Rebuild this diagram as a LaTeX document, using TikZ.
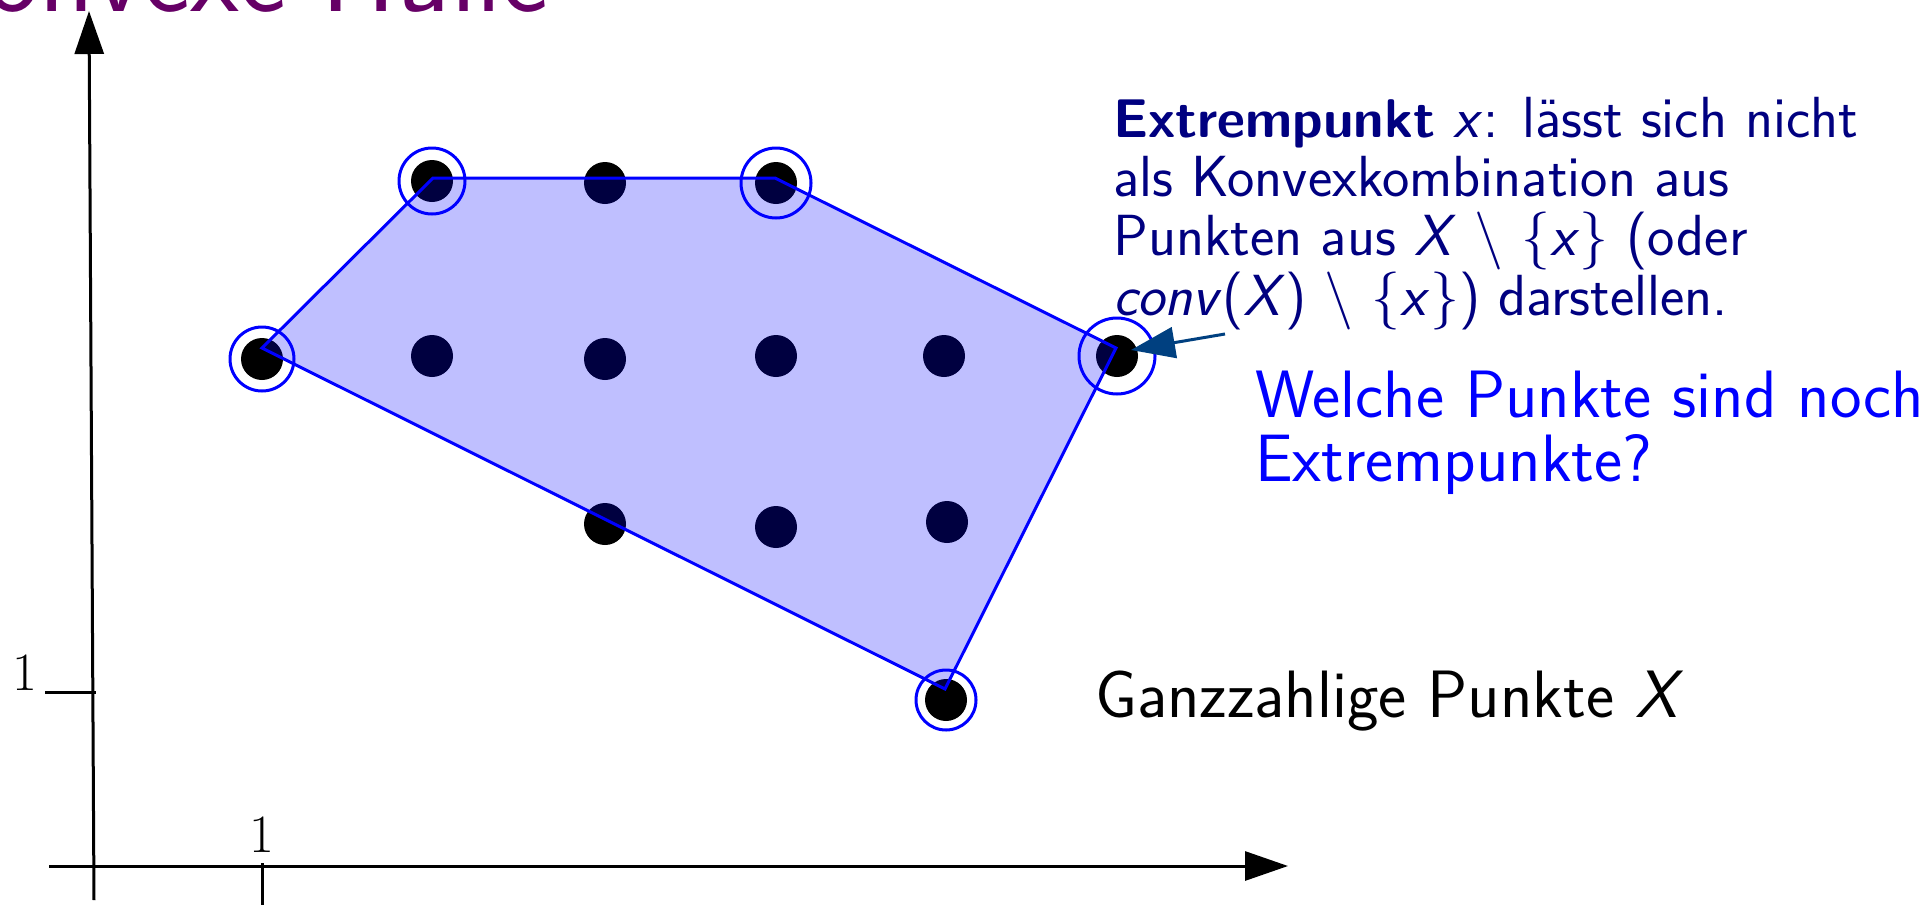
\RequirePackage{fix-cm}
\documentclass[tikz,border=0pt]{standalone}
\usepackage{fontspec}
\usetikzlibrary{arrows.meta}
\definecolor{titlepurple}{RGB}{102,0,102}
\definecolor{notenavy}{RGB}{0,0,128}
\definecolor{arrowblue}{RGB}{0,64,128}
\newcommand{\boldterm}[1]{{\fontsize{54.5}{59}\selectfont\bfseries #1}}
\begin{document}
\begin{tikzpicture}[x=1pt,y=-1pt,
  axisline/.style={line width=3pt,black},
  axistip/.style={-{Triangle[length=43pt,width=29pt]}},
  dotpt/.style={circle,fill=black,minimum size=42pt,inner sep=0pt,outer sep=0pt},
  ringmark/.style={draw=blue,line width=3pt},
  hull/.style={draw=blue,line width=3pt,fill=blue,fill opacity=0.25,line join=miter},
  smalltxt/.style={inner sep=0pt,anchor=base west,text=notenavy,font=\sffamily\fontsize{58}{59}\selectfont},
  bigtxt/.style={inner sep=0pt,anchor=base west,font=\sffamily\fontsize{67}{68}\selectfont},
  ticklabel/.style={inner sep=0pt,anchor=base,font=\rmfamily\fontsize{54}{60}\selectfont},
]
\useasboundingbox (0,0) rectangle (1932,905);

% title
\node[inner sep=0pt,anchor=base east,text=titlepurple,font=\sffamily\fontsize{113}{120}\selectfont] (title) at (549,11) {Konvexe Hülle};

% axes
\coordinate (ybot) at (94,900);
\coordinate (ytop) at (89,11);
\coordinate (xleft) at (49,866);
\coordinate (xright) at (1288,866);
\draw[axisline,axistip] (ybot) -- (ytop);
\draw[axisline,axistip] (xleft) -- (xright);
\coordinate (xt1) at (262,863);
\coordinate (xt2) at (262,905);
\coordinate (yt1) at (45,692);
\coordinate (yt2) at (96,692);
\draw[axisline] (xt1) -- (xt2);
\draw[axisline] (yt1) -- (yt2);
\node[ticklabel] (xone) at (262,852) {1};
\node[ticklabel] (yone) at (25,690) {1};

% integer points
\node[dotpt] (p24) at (432,181) {};
\node[dotpt] (p34) at (605,183) {};
\node[dotpt] (p44) at (776,183) {};
\node[dotpt] (p13) at (262,359) {};
\node[dotpt] (p23) at (432,356) {};
\node[dotpt] (p33) at (605,359) {};
\node[dotpt] (p43) at (776,356) {};
\node[dotpt] (p53) at (944,356) {};
\node[dotpt] (p63) at (1117,356) {};
\node[dotpt] (p32) at (605,524) {};
\node[dotpt] (p42) at (776,527) {};
\node[dotpt] (p52) at (947,522) {};
\node[dotpt] (p51) at (946,700) {};

% convex hull
\coordinate (v1) at (262,348);
\coordinate (v2) at (433,178);
\coordinate (v3) at (775,178);
\coordinate (v4) at (1116,348);
\coordinate (v5) at (945,689);
\draw[hull] (v1) -- (v2) -- (v3) -- (v4) -- (v5) -- cycle;

% extreme point rings
\draw[ringmark] (p13) circle[radius=32pt];
\draw[ringmark] (p24) circle[radius=33pt];
\draw[ringmark] (p44) circle[radius=35pt];
\draw[ringmark] (p63) circle[radius=38pt];
\draw[ringmark] (p51) circle[radius=30pt];

% annotation
\node[smalltxt] (t1) at (1113,137) {\boldterm{Extrempunkt} \textit{x}: lässt sich nicht};
\node[smalltxt] (t2) at (1113,196) {als Konvexkombination aus};
\node[smalltxt] (t3) at (1113,255) {Punkten aus \textit{X} $\setminus$ $\{$\textit{x}$\}$ (oder};
\node[smalltxt] (t4) at (1113,315) {\textit{conv}(\textit{X}) $\setminus$ $\{$\textit{x}$\}$) darstellen.};
\coordinate (atail) at (1225,334);
\coordinate (atip) at (1131,350);
\draw[line width=3pt,arrowblue,-{Triangle[length=44pt,width=31pt]}] (atail) -- (atip);

\node[bigtxt,text=blue] (q1) at (1255,417) {Welche Punkte sind noch};
\node[bigtxt,text=blue] (q2) at (1255,481) {Extrempunkte?};
\node[bigtxt,text=black] (lab) at (1095,717) {Ganzzahlige Punkte \textit{X}};
\end{tikzpicture}
\end{document}
